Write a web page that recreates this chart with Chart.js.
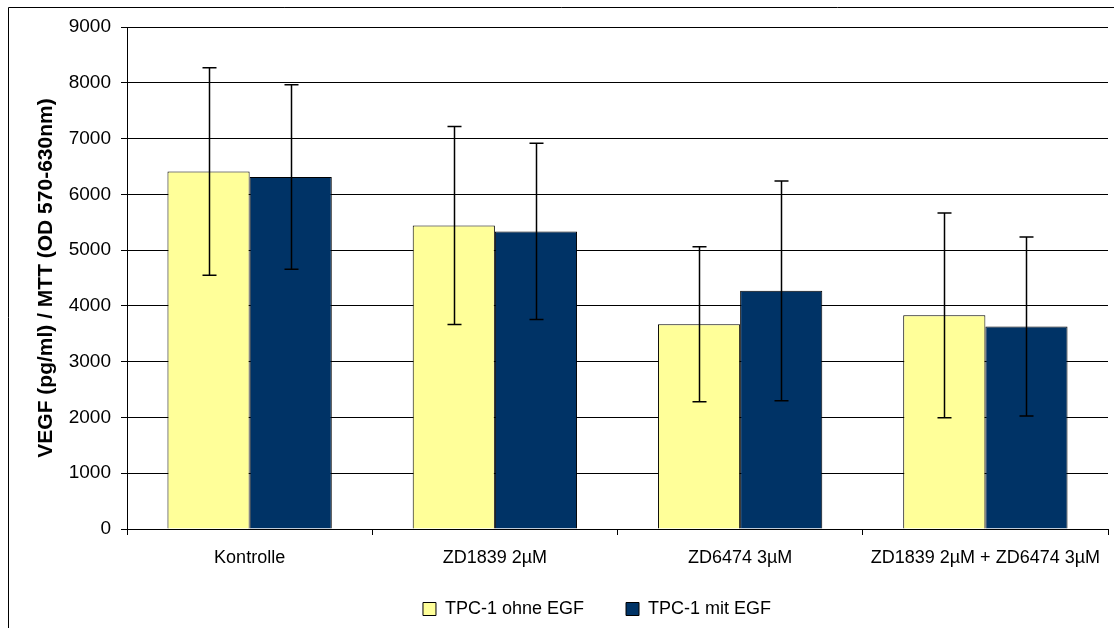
<!DOCTYPE html>
<html>
<head>
<meta charset="utf-8">
<script src="https://cdn.jsdelivr.net/npm/chart.js@4"></script>
<style>
    html, body { margin: 0; padding: 0; background: #fff; }
    #wrap { width: 1114px; height: 628px; position: relative; }
</style>
</head>
<body>
<div id="wrap"><canvas id="chart1" width="1114" height="628"></canvas></div>
<script>

const categories = ['Kontrolle', 'ZD1839 2µM', 'ZD6474 3µM', 'ZD1839 2µM + ZD6474 3µM'];
const seriesNames = ['TPC-1 ohne EGF', 'TPC-1 mit EGF'];

const ohneEgf = [6410, 5440, 3670, 3830];
const ohneEgfSd = [1860, 1775, 1390, 1835];

const mitEgf = [6310, 5335, 4270, 3630];
const mitEgfSd = [1655, 1580, 1970, 1605];

const yTicks = [0, 1000, 2000, 3000, 4000, 5000, 6000, 7000, 8000, 9000];

const fontFamily = '"Liberation Sans", Arial, sans-serif';

// error bars, drawn from the dataset's own scale
const errorBars = {
    id: 'errorBars',
    afterDatasetsDraw(chart) {
        const ctx = chart.ctx;
        const yScale = chart.scales.y;
        const sds = [ohneEgfSd, mitEgfSd];

        ctx.save();
        ctx.strokeStyle = '#000';
        ctx.lineWidth = 1.5;

        chart.data.datasets.forEach(function(ds, i) {
            const meta = chart.getDatasetMeta(i);
            meta.data.forEach(function(bar, j) {
                const v = ds.data[j];
                const top = yScale.getPixelForValue(v + sds[i][j]);
                const bottom = yScale.getPixelForValue(v - sds[i][j]);
                const x = Math.round(bar.x) + 0.5;

                ctx.beginPath();
                ctx.moveTo(x, top);
                ctx.lineTo(x, bottom);
                ctx.moveTo(x - 7, top);
                ctx.lineTo(x + 7, top);
                ctx.moveTo(x - 7, bottom);
                ctx.lineTo(x + 7, bottom);
                ctx.stroke();
            });
        });

        ctx.restore();
    }
};

// outer frame, legend centring, no clipping of the category labels
const frame = {
    id: 'frame',
    afterLayout(chart) {
        const legend = chart.legend;
        if (legend) {
            const shift = 597 - (legend.left + legend.right) / 2;
            legend.left += shift;
            legend.right += shift;
        }
        chart.scales.x.bottom = chart.height;
    },
    beforeDraw(chart) {
        const ctx = chart.ctx;
        ctx.save();
        ctx.fillStyle = '#fff';
        ctx.fillRect(0, 0, chart.width, chart.height);
        ctx.strokeStyle = '#000';
        ctx.lineWidth = 1;
        ctx.beginPath();
        ctx.moveTo(8.5, chart.height);
        ctx.lineTo(8.5, 7.5);
        ctx.lineTo(chart.width, 7.5);
        ctx.stroke();
        ctx.restore();
    }
};

const chart1 = new Chart(document.getElementById('chart1'), {
    type: 'bar',
    data: {
        labels: categories,
        datasets: [
            {
                label: seriesNames[0],
                data: ohneEgf,
                backgroundColor: '#FFFF99',
                borderColor: '#000',
                borderWidth: 1,
                categoryPercentage: 0.67,
                barPercentage: 1.0
            },
            {
                label: seriesNames[1],
                data: mitEgf,
                backgroundColor: '#003366',
                borderColor: '#000',
                borderWidth: 1,
                categoryPercentage: 0.67,
                barPercentage: 1.0
            }
        ]
    },
    options: {
        responsive: false,
        animation: false,
        devicePixelRatio: 1,
        layout: {
            padding: { left: 30, top: 27, right: 6, bottom: 0 }
        },
        plugins: {
            tooltip: { enabled: false },
            legend: {
                position: 'bottom',
                labels: {
                    boxWidth: 13,
                    boxHeight: 13,
                    padding: 42,
                    color: '#000',
                    font: { family: fontFamily, size: 18 }
                }
            }
        },
        scales: {
            x: {
                grid: {
                    offset: true,
                    drawOnChartArea: false,
                    color: '#000',
                    tickLength: 6
                },
                border: { color: '#000', width: 1 },
                ticks: {
                    color: '#000',
                    padding: 12,
                    maxRotation: 0,
                    autoSkip: false,
                    font: { family: fontFamily, size: 18 }
                },
                afterFit: function(s) {
                    const lh = (s.chart.legend && s.chart.legend.height) || 72;
                    s.height = s.chart.height - 529 - lh;
                }
            },
            y: {
                min: 0,
                max: 9000,
                afterBuildTicks: function(s) {
                    s.ticks = yTicks.map(function(v) { return { value: v }; });
                },
                grid: {
                    color: '#000',
                    lineWidth: 1,
                    tickLength: 6
                },
                border: { color: '#000', width: 1 },
                ticks: {
                    color: '#000',
                    padding: 10,
                    font: { family: fontFamily, size: 19 },
                    callback: function(v) { return String(v); }
                },
                title: {
                    display: true,
                    text: 'VEGF (pg/ml) / MTT (OD 570-630nm)',
                    color: '#000',
                    padding: { top: 4, bottom: 4 },
                    font: { family: fontFamily, size: 21, weight: 'bold' }
                },
                afterFit: function(s) {
                    s.width = 97;
                }
            }
        }
    },
    plugins: [frame, errorBars]
});

</script>
</body>
</html>
